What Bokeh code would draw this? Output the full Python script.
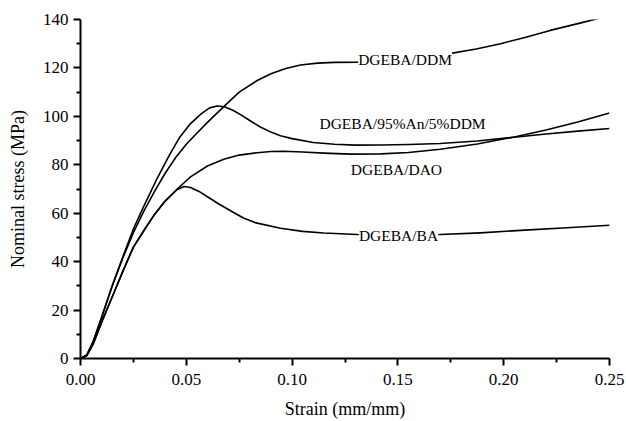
from bokeh.plotting import figure
from bokeh.models import Range1d, Label, FixedTicker
from bokeh.embed import file_html
from bokeh.resources import INLINE

# ---- data ----
x_ddm = [0, 0.003, 0.006, 0.010, 0.015, 0.020, 0.025, 0.030, 0.035, 0.040, 0.045, 0.050, 0.0536,
         0.060, 0.0677, 0.075, 0.0835, 0.090, 0.097, 0.104, 0.112, 0.120, 0.131, 0.145, 0.160,
         0.175, 0.187, 0.1985, 0.210, 0.222, 0.236, 0.250]
y_ddm = [0, 1.5, 7, 17, 30, 41.5, 52, 61, 69, 76.5, 83, 88.5, 91.8, 97.5, 104, 110, 114.8,
         117.6, 119.8, 121.2, 122, 122.3, 122.4, 123.2, 124.5, 126, 127.8, 130, 132.6, 135.5,
         138.5, 141.6]

x_an = [0, 0.003, 0.006, 0.010, 0.015, 0.020, 0.025, 0.030, 0.036, 0.042, 0.047, 0.052, 0.057,
        0.061, 0.0646, 0.068, 0.072, 0.076, 0.080, 0.085, 0.090, 0.0945, 0.100, 0.110, 0.120,
        0.130, 0.142, 0.155, 0.170, 0.1875, 0.205, 0.220, 0.235, 0.250]
y_an = [0, 1.5, 7, 17, 30, 42, 53.5, 63, 74, 84, 91.5, 97, 101, 103.5, 104.3, 104, 102.5, 100.5,
        98.3, 95.6, 93.5, 92, 90.8, 89.2, 88.5, 88.1, 88.2, 88.4, 88.8, 89.8, 91.4, 92.7, 93.9, 95]

x_dao = [0, 0.003, 0.006, 0.010, 0.0167, 0.020, 0.025, 0.0305, 0.035, 0.040, 0.0457, 0.052,
         0.060, 0.0677, 0.075, 0.0835, 0.090, 0.096, 0.105, 0.115, 0.1276, 0.142, 0.155, 0.170,
         0.1875, 0.205, 0.220, 0.235, 0.250]
y_dao = [0, 1.2, 6, 15, 29, 36, 46, 53.6, 59.5, 65, 70, 75, 79.5, 82.3, 84, 85, 85.5, 85.6, 85.3,
         84.8, 84.4, 84.5, 85.1, 86.4, 88.6, 91.5, 94.4, 97.7, 101.4]

x_ba = [0, 0.003, 0.006, 0.010, 0.0167, 0.020, 0.025, 0.0305, 0.035, 0.040, 0.0457, 0.049, 0.052,
        0.056, 0.060, 0.065, 0.0709, 0.077, 0.083, 0.0945, 0.105, 0.115, 0.1308, 0.150, 0.170,
        0.189, 0.210, 0.230, 0.250]
y_ba = [0, 1.2, 6, 15, 29, 36, 46, 53.6, 59.5, 65, 69.8, 71.0, 70.6, 69, 66.8, 64, 61, 58, 56,
        53.8, 52.5, 51.8, 51.2, 51.0, 51.2, 51.9, 53, 54, 55]

x_ticks = [0.0, 0.05, 0.10, 0.15, 0.20, 0.25]
y_ticks = [0, 20, 40, 60, 80, 100, 120, 140]

FONT = "Liberation Serif"

p = figure(width=626, height=421, output_backend="svg", toolbar_location=None,
           x_range=Range1d(0, 0.25), y_range=Range1d(0, 140),
           min_border_left=80, min_border_right=17, min_border_top=19, min_border_bottom=60)
p.outline_line_color = None
p.grid.visible = False
p.background_fill_color = "white"
p.border_fill_color = "white"

for xs, ys in [(x_ddm, y_ddm), (x_an, y_an), (x_dao, y_dao), (x_ba, y_ba)]:
    p.line(xs, ys, line_color="black", line_width=1.6, line_join="round")

p.xaxis.ticker = FixedTicker(ticks=x_ticks, minor_ticks=[0.025, 0.075, 0.125, 0.175, 0.225])
p.yaxis.ticker = FixedTicker(ticks=y_ticks, minor_ticks=[10, 30, 50, 70, 90, 110, 130])
p.xaxis.major_label_overrides = {t: f"{t:.2f}" for t in x_ticks}

for ax in (p.xaxis[0], p.yaxis[0]):
    ax.axis_line_width = 2
    ax.major_tick_line_width = 2
    ax.minor_tick_line_width = 2
    ax.major_tick_out = 7
    ax.major_tick_in = 0
    ax.minor_tick_out = 4
    ax.minor_tick_in = 0
    ax.major_label_text_font = FONT
    ax.major_label_text_font_size = "17px"
    ax.major_label_text_color = "black"
    ax.axis_label_text_font = FONT
    ax.axis_label_text_font_size = "18px"
    ax.axis_label_text_font_style = "normal"
    ax.axis_label_text_color = "black"

p.xaxis.axis_label = "Strain (mm/mm)"
p.yaxis.axis_label = "Nominal stress (MPa)"
p.xaxis.major_label_standoff = 8
p.yaxis.major_label_standoff = 5
p.xaxis.axis_label_standoff = 11
p.yaxis.axis_label_standoff = 12

labels = [("DGEBA/DDM", 0.1534, 123.6, True),
          ("DGEBA/95%An/5%DDM", 0.1522, 97.0, False),
          ("DGEBA/DAO", 0.1493, 77.9, False),
          ("DGEBA/BA", 0.1503, 50.9, True)]
for txt, lx, ly, bg in labels:
    lab = Label(x=lx, y=ly, text=txt, text_align="center", text_baseline="middle",
                text_font=FONT, text_font_size="15.5px", text_color="black")
    if bg:
        lab.background_fill_color = "white"
    p.add_layout(lab)

open("out.html", "w").write(file_html(p, INLINE))
